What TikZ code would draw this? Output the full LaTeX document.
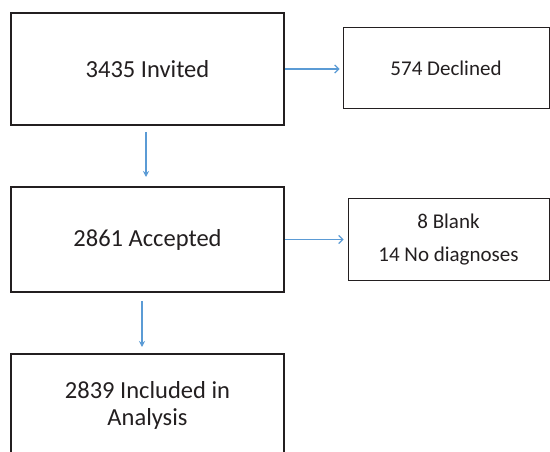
\documentclass[tikz,border=0pt]{standalone}
\usepackage{fontspec}
\setmainfont{Carlito}
\usepackage{tikz}
\usetikzlibrary{arrows.meta, positioning, calc}
\definecolor{boxblack}{RGB}{35, 31, 32}
\definecolor{arrowblue}{RGB}{91, 155, 213}

\begin{document}
\begin{tikzpicture}[x=1pt, y=-1pt,
    bigbox/.style={rectangle, draw=boxblack, fill=white, line width=2pt, minimum width=273pt, align=center, font=\fontsize{24.5}{27}\selectfont, text=boxblack},
    smallbox/.style={rectangle, draw=boxblack, fill=white, line width=1pt, minimum height=81pt, align=center, font=\fontsize{21}{33}\selectfont, text=boxblack},
    arrow/.style={-{Stealth[length=6pt, width=6pt]}, line width=1.2pt, arrowblue},
    sidearrow/.style={-{Straight Barb[length=4pt, width=8pt]}, line width=1.2pt, arrowblue}
]
\useasboundingbox (0,0) rectangle (550,452);
\clip (0,0) rectangle (550,452);

\node (invited)  [bigbox, minimum height=112pt] at (147.5,69) {3435 Invited};
\node (declined) [smallbox, minimum width=206pt] at (446,68.5) {574 Declined};

\node (accepted) [bigbox, minimum height=105pt] at (147.5,239.5) {2861 Accepted};
\node (blank)    [smallbox, minimum width=201pt] at (448.5,239.5) {8 Blank\\14 No diagnoses};

\node (included) [bigbox, minimum height=102pt] at (147.5,405) {2839 Included in\\Analysis};

\draw [sidearrow, shorten >=3pt] (invited.east) -- (declined.west |- invited.east);
\draw [sidearrow, shorten >=4pt] (accepted.east) -- (blank.west |- accepted.east);

\draw [arrow, shorten <=6pt, shorten >=9pt] ([xshift=-1.5pt]invited.south) -- ([xshift=-1.5pt]invited.south |- accepted.north);
\draw [arrow, shorten <=8pt, shorten >=6pt] ([xshift=-5.5pt]accepted.south) -- ([xshift=-5.5pt]accepted.south |- included.north);

\end{tikzpicture}
\end{document}
